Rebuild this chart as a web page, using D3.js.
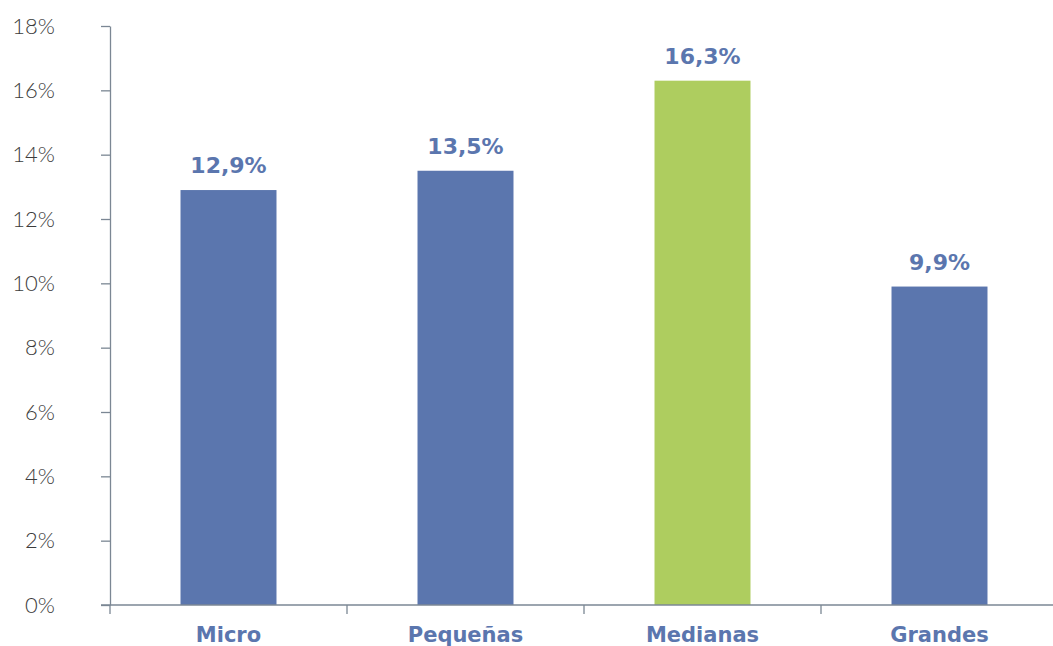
<!DOCTYPE html>
<html>
<head>
<meta charset="utf-8">
<script src="https://cdn.jsdelivr.net/npm/d3@7"></script>
<style>
html,body{margin:0;padding:0;background:#fff;}
svg{display:block;}
</style>
</head>
<body>
<svg id="chart" width="1053" height="646"></svg>
<script>
const categories = ["Micro", "Pequeñas", "Medianas", "Grandes"];
const values = [12.9, 13.5, 16.3, 9.9];
const valueLabels = ["12,9%", "13,5%", "16,3%", "9,9%"];
const barColors = ["#5b76ae", "#5b76ae", "#aecd5f", "#5b76ae"];
const yTicks = [0, 2, 4, 6, 8, 10, 12, 14, 16, 18];

(function () {
const svg = d3.select("#chart");
const mLeft = 110, mRight = 1058, mTop = 26, mBottom = 605;

const x = d3.scaleBand().domain(categories).range([mLeft, mRight]).paddingInner(0.595).paddingOuter(0.2975);
const y = d3.scaleLinear().domain([0, 18]).range([mBottom, mTop]);

const axisColor = "#7b8794";
const blue = "#5b76ae";
const step = x.step();
const boldFont = "'DejaVu Sans', Verdana, sans-serif";

// bars
svg.selectAll("rect.bar").data(categories).enter().append("rect")
  .attr("class", "bar")
  .attr("x", d => x(d))
  .attr("width", x.bandwidth())
  .attr("y", (d, i) => y(values[i]))
  .attr("height", (d, i) => y(0) - y(values[i]))
  .attr("fill", (d, i) => barColors[i]);

// y axis
const yAxis = d3.axisLeft(y).tickValues(yTicks).tickFormat(d => d + "%").tickSize(9).tickSizeOuter(0);
const gy = svg.append("g").attr("transform", `translate(${mLeft},0)`).call(yAxis);
gy.select(".domain").attr("stroke", axisColor).attr("stroke-width", 1.3);
gy.selectAll(".tick line").attr("stroke", axisColor).attr("stroke-width", 1.3);
gy.selectAll(".tick text")
  .attr("x", -55)
  .attr("fill", "#3c3c3c")
  .style("font-family", "Lato, 'Open Sans', sans-serif")
  .style("font-weight", 300)
  .style("font-size", "22px");

// x axis line
svg.append("line")
  .attr("x1", mLeft - 9).attr("x2", 1053)
  .attr("y1", mBottom).attr("y2", mBottom)
  .attr("stroke", axisColor).attr("stroke-width", 1.3);

// category boundary ticks
svg.selectAll("line.xtick").data(categories).enter().append("line")
  .attr("class", "xtick")
  .attr("x1", d => x(d) - (step - x.bandwidth()) / 2)
  .attr("x2", d => x(d) - (step - x.bandwidth()) / 2)
  .attr("y1", mBottom).attr("y2", mBottom + 9)
  .attr("stroke", axisColor).attr("stroke-width", 1.3);

// category labels
svg.selectAll("text.cat").data(categories).enter().append("text")
  .attr("class", "cat")
  .attr("x", d => x(d) + x.bandwidth() / 2)
  .attr("y", 642)
  .attr("text-anchor", "middle")
  .attr("fill", blue)
  .style("font-family", boldFont)
  .style("font-weight", 700)
  .style("font-size", "21px")
  .text(d => d);

// value labels
svg.selectAll("text.val").data(categories).enter().append("text")
  .attr("class", "val")
  .attr("x", d => x(d) + x.bandwidth() / 2)
  .attr("y", (d, i) => y(values[i]) - 17)
  .attr("text-anchor", "middle")
  .attr("fill", blue)
  .style("font-family", boldFont)
  .style("font-weight", 700)
  .style("font-size", "22px")
  .text((d, i) => valueLabels[i]);
})();
</script>
</body>
</html>
